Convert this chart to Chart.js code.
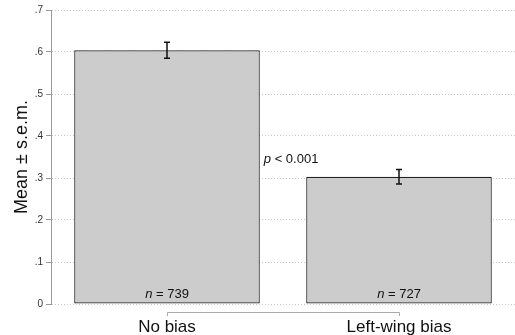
<!DOCTYPE html>
<html>
<head>
<meta charset="utf-8">
<script src="https://cdn.jsdelivr.net/npm/chart.js@4"></script>
<style>
  html, body { margin: 0; padding: 0; background: #fff; }
  #wrap { width: 515px; height: 335px; }
</style>
</head>
<body>
<div id="wrap"><canvas id="chart" width="515" height="335"></canvas></div>
<script>
const categories = ['No bias', 'Left-wing bias'];
const means = [0.604, 0.303];
const sems = [0.019, 0.017];
const counts = [739, 727];
const yTicks = [0, 0.1, 0.2, 0.3, 0.4, 0.5, 0.6, 0.7];
const pLabel = '0.001';

const FONT = '"Liberation Sans", Arial, sans-serif';

function fmtTick(v) {
  if (v === 0) return '0';
  return v.toFixed(1).replace(/^0/, '');
}

// error bars, n labels, p-value, bracket under the bars
const extras = {
  id: 'extras',
  afterDatasetsDraw(chart) {
    const ctx = chart.ctx;
    const y = chart.scales.y;
    const x = chart.scales.x;
    const meta = chart.getDatasetMeta(0);

    ctx.save();
    ctx.strokeStyle = '#111';
    ctx.lineWidth = 1.5;
    meta.data.forEach((bar, i) => {
      const top = y.getPixelForValue(means[i] + sems[i]);
      const bot = y.getPixelForValue(means[i] - sems[i]);
      ctx.beginPath();
      ctx.moveTo(bar.x, top); ctx.lineTo(bar.x, bot);
      ctx.moveTo(bar.x - 3, top); ctx.lineTo(bar.x + 3, top);
      ctx.moveTo(bar.x - 3, bot); ctx.lineTo(bar.x + 3, bot);
      ctx.stroke();
    });

    // n = ... labels
    ctx.fillStyle = '#111';
    ctx.textBaseline = 'alphabetic';
    ctx.textAlign = 'left';
    meta.data.forEach((bar, i) => {
      const rest = ' = ' + counts[i];
      ctx.font = 'italic 13px ' + FONT;
      const w1 = ctx.measureText('n').width;
      ctx.font = '13px ' + FONT;
      const w2 = ctx.measureText(rest).width;
      const x0 = bar.x - (w1 + w2) / 2;
      const base = y.getPixelForValue(0) - 6;
      ctx.font = 'italic 13px ' + FONT;
      ctx.fillText('n', x0, base);
      ctx.font = '13px ' + FONT;
      ctx.fillText(rest, x0 + w1, base);
    });

    // p-value
    const b0 = meta.data[0];
    const px = b0.x + b0.width / 2 + 4;
    const py = y.getPixelForValue(0.348) + 5;
    ctx.font = 'italic 13px ' + FONT;
    ctx.fillText('p', px, py);
    const pw = ctx.measureText('p').width;
    ctx.font = '13px ' + FONT;
    ctx.fillText(' < ' + pLabel, px + pw, py);

    // bracket axis between category centres
    const x1 = x.getPixelForValue(0);
    const x2 = x.getPixelForValue(1);
    const by = y.bottom + 8;
    ctx.strokeStyle = '#aaa';
    ctx.lineWidth = 1;
    ctx.beginPath();
    ctx.moveTo(x1 + 0.5, by + 4);
    ctx.lineTo(x1 + 0.5, by + 0.5);
    ctx.lineTo(x2 + 0.5, by + 0.5);
    ctx.lineTo(x2 + 0.5, by + 4);
    ctx.stroke();
    ctx.restore();
  }
};

new Chart(document.getElementById('chart'), {
  type: 'bar',
  data: {
    labels: categories,
    datasets: [{
      data: means,
      backgroundColor: '#cccccc',
      borderColor: '#222222',
      borderWidth: 1.2,
      borderSkipped: false,
      categoryPercentage: 1,
      barPercentage: 0.8
    }]
  },
  options: {
    responsive: false,
    animation: false,
    layout: { padding: { top: 10, right: 0, left: 0, bottom: 0 } },
    plugins: { legend: { display: false }, tooltip: { enabled: false } },
    scales: {
      x: {
        grid: { display: false },
        border: { display: false },
        ticks: { color: '#111', padding: 5, font: { family: FONT, size: 17 } },
        afterFit(scale) { scale.height = 31; }
      },
      y: {
        min: 0,
        max: 0.7,
        afterBuildTicks(scale) { scale.ticks = yTicks.map(v => ({ value: v })); },
        ticks: {
          color: '#333',
          padding: 3,
          font: { family: FONT, size: 10 },
          callback: v => fmtTick(v)
        },
        grid: {
          color: '#c8c8c8',
          tickColor: '#999',
          tickLength: 5,
          tickBorderDash: []
        },
        border: { color: '#999', dash: [1, 2] },
        title: {
          display: true,
          text: 'Mean \u00b1 s.e.m.',
          color: '#111',
          font: { family: FONT, size: 18 },
          padding: { top: 11, bottom: 0 }
        },
        afterFit(scale) { scale.width = 51; }
      }
    }
  },
  plugins: [extras]
});
</script>
</body>
</html>
